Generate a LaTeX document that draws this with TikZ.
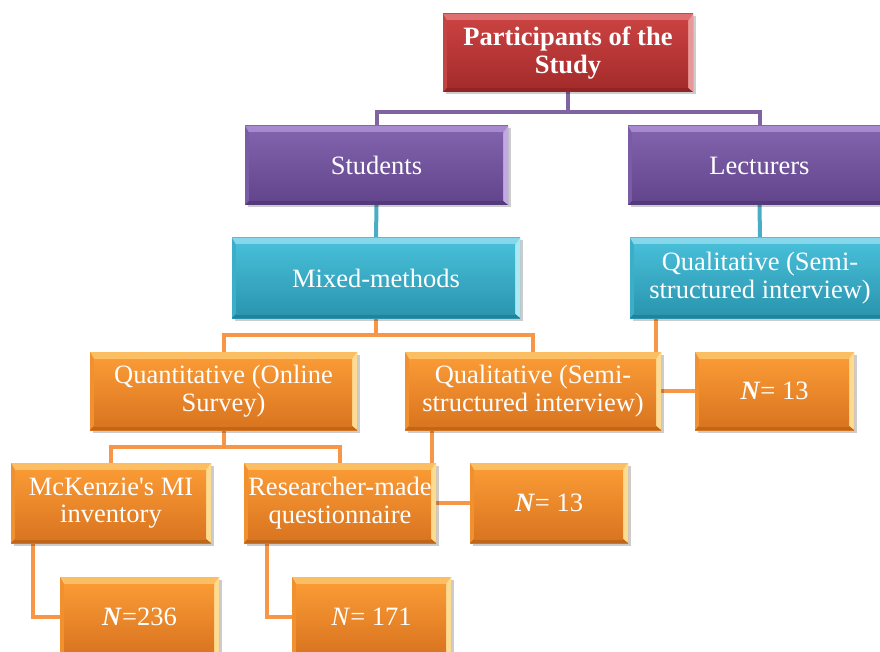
\documentclass[tikz,border=0pt]{standalone}
\usepackage{fontspec}
\setmainfont{Liberation Serif}[Ligatures=TeXOff]
\usetikzlibrary{calc,shadows}
\pgfdeclarelayer{wires}
\pgfsetlayers{wires,main}

% face, bevel and edge colours for each family of boxes
\definecolor{redTop}{HTML}{C94141}
\definecolor{redBot}{HTML}{A52B2B}
\definecolor{redHi}{HTML}{E07070}
\definecolor{redSide}{HTML}{E89898}
\definecolor{redLeft}{HTML}{C44444}
\definecolor{redDark}{HTML}{922424}
\definecolor{purTop}{HTML}{8062AC}
\definecolor{purBot}{HTML}{63458D}
\definecolor{purHi}{HTML}{A689CF}
\definecolor{purSide}{HTML}{C2A9E3}
\definecolor{purLeft}{HTML}{7A5CA6}
\definecolor{purDark}{HTML}{553A7A}
\definecolor{tealTop}{HTML}{47BDD7}
\definecolor{tealBot}{HTML}{2B96B0}
\definecolor{tealHi}{HTML}{86D7EA}
\definecolor{tealSide}{HTML}{ACE8F4}
\definecolor{tealLeft}{HTML}{3DAEC8}
\definecolor{tealDark}{HTML}{23819A}
\definecolor{orgTop}{HTML}{F99A35}
\definecolor{orgBot}{HTML}{DA7520}
\definecolor{orgHi}{HTML}{FBBE62}
\definecolor{orgSide}{HTML}{FDDC92}
\definecolor{orgLeft}{HTML}{F0902E}
\definecolor{orgDark}{HTML}{C0661A}
\definecolor{wirePur}{HTML}{8064A2}
\definecolor{wireTeal}{HTML}{4BACC6}
\definecolor{wireOrg}{HTML}{F79646}

\tikzset{
  x=1pt, y=-1pt,
  bevelbox/.style={rectangle, inner sep=0pt, draw=none, text=white, align=center,
    font=\fontsize{26.5}{27.5}\selectfont,
    top color=#1Top, bottom color=#1Bot,
    drop shadow={shadow xshift=2.5pt, shadow yshift=-2.5pt, fill=black, opacity=0.2},
    path picture={
      \path (path picture bounding box.north west) coordinate (bNW)
            (path picture bounding box.north east) coordinate (bNE)
            (path picture bounding box.south west) coordinate (bSW)
            (path picture bounding box.south east) coordinate (bSE)
            ($(bNW)+(4pt,-7pt)$) coordinate (iNW)
            ($(bNE)+(-5pt,-7pt)$) coordinate (iNE)
            ($(bSW)+(4pt,4pt)$) coordinate (iSW)
            ($(bSE)+(-5pt,4pt)$) coordinate (iSE);
      \fill[#1Hi] (bNW) -- (bNE) -- (iNE) -- (iNW) -- cycle;
      \fill[#1Side] (bNE) -- (bSE) -- (iSE) -- (iNE) -- cycle;
      \fill[#1Left] (bNW) -- (bSW) -- (iSW) -- (iNW) -- cycle;
      \fill[#1Dark] (bSW) -- (bSE) -- (iSE) -- (iSW) -- cycle;
      \shade[top color=#1Top, bottom color=#1Bot] (iNW) rectangle (iSE);
    }},
  wire/.style={line width=4pt, color=#1}
}

\begin{document}
\begin{tikzpicture}
\useasboundingbox (0,0) rectangle (880,652);

% top of the tree
\node[bevelbox=red, font=\fontsize{26.5}{27.5}\selectfont\bfseries,
      minimum width=250pt, minimum height=78pt] (root) at (568,53) {Participants of the\\Study};
\node[bevelbox=pur, minimum width=263pt, minimum height=79pt] (stud) at (376.5,165.5) {Students};
\node[bevelbox=pur, minimum width=263pt, minimum height=79pt] (lect) at (759.5,165.5) {Lecturers};

% methods
\node[bevelbox=teal, minimum width=288pt, minimum height=80pt] (mixed) at (376,278) {Mixed-methods};
\node[bevelbox=teal, minimum width=260pt, minimum height=80pt] (qualT) at (760,278) {Qualitative (Semi-\\structured interview)};

\node[bevelbox=org, minimum width=267pt, minimum height=78pt] (quant) at (223.5,391) {Quantitative (Online\\Survey)};
\node[bevelbox=org, minimum width=256pt, minimum height=78pt] (qualO) at (533,391) {Qualitative (Semi-\\structured interview)};
\node[bevelbox=org, minimum width=159pt, minimum height=78pt] (nA) at (774.5,391) {\textbf{\textit{N}}= 13};

% instruments and samples
\node[bevelbox=org, minimum width=200pt, minimum height=80pt] (mck) at (111,503) {McKenzie's MI\\inventory};
\node[bevelbox=org, minimum width=192pt, minimum height=80pt] (rsr) at (340,503) {Researcher-made\\questionnaire};
\node[bevelbox=org, minimum width=158pt, minimum height=80pt] (nB) at (549,503) {\textbf{\textit{N}}= 13};
\node[bevelbox=org, minimum width=159pt, minimum height=80pt] (nC) at (139.5,617) {\textbf{\textit{N}}=236};
\node[bevelbox=org, minimum width=159pt, minimum height=80pt] (nD) at (371.5,617) {\textit{N}= 171};

% connectors, kept behind the boxes
\begin{pgfonlayer}{wires}
  \draw[wire=wirePur] (root.south) -- ++(0,20) -| (stud.north);
  \draw[wire=wirePur] (root.south) -- ++(0,20) -| (lect.north);
  \draw[wire=wireTeal] (stud.south) -- (mixed.north);
  \draw[wire=wireTeal] (lect.south) -- (qualT.north);
  \draw[wire=wireOrg] (mixed.south) -- ++(0,17) -| (quant.north);
  \draw[wire=wireOrg] (mixed.south) -- ++(0,17) -| (qualO.north);
  \draw[wire=wireOrg] ([xshift=26pt]qualT.south west) |- (nA.west);
  \draw[wire=wireOrg] (quant.south) -- ++(0,17) -| (mck.north);
  \draw[wire=wireOrg] (quant.south) -- ++(0,17) -| (rsr.north);
  \draw[wire=wireOrg] ([xshift=27pt]qualO.south west) |- (nB.west);
  \draw[wire=wireOrg] ([xshift=22pt]mck.south west) |- (nC.west);
  \draw[wire=wireOrg] ([xshift=23pt]rsr.south west) |- (nD.west);
\end{pgfonlayer}
\end{tikzpicture}
\end{document}
